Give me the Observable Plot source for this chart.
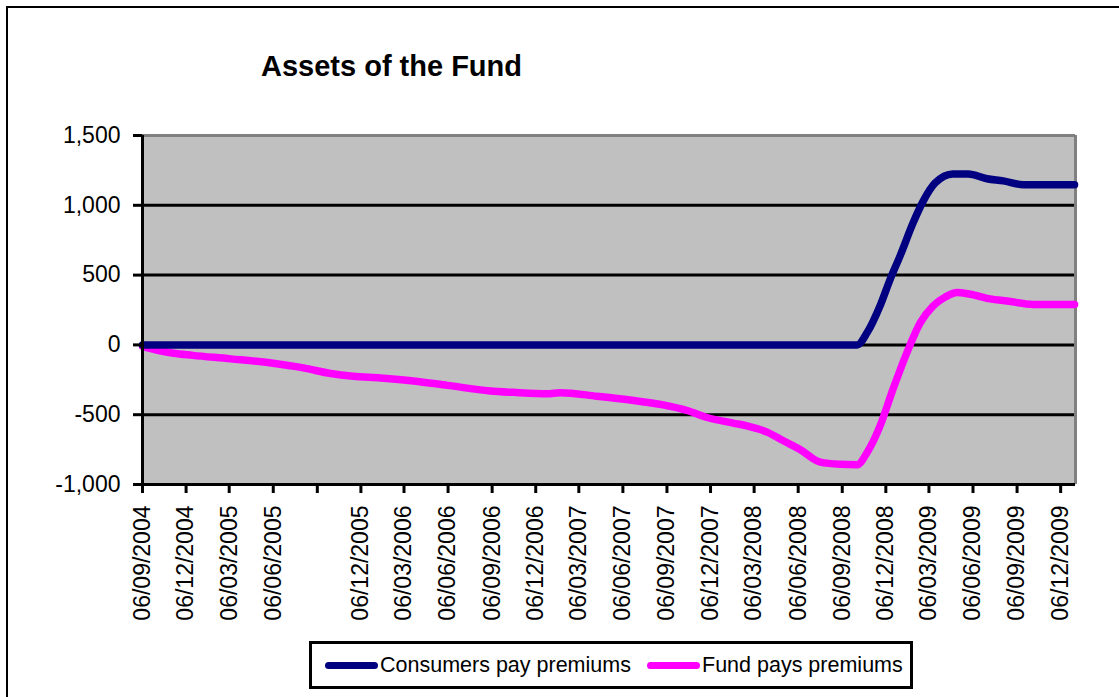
<!DOCTYPE html>
<html>
<head>
<meta charset="utf-8">
<script src="https://cdn.jsdelivr.net/npm/d3@7"></script>
<script src="https://cdn.jsdelivr.net/npm/@observablehq/plot@0.6"></script>
<style>
html, body { margin: 0; padding: 0; background: #fff; overflow: hidden; }
#wrap { position: relative; width: 1119px; height: 697px; font-family: "Liberation Sans", Arial, sans-serif; color: #000; }
#frame { position: absolute; left: 6px; top: 6px; width: 1200px; height: 800px; border: 2px solid #000; }
#title { position: absolute; left: 261px; top: 52px; font-size: 29px; font-weight: bold; line-height: 29px; white-space: nowrap; }
#chart { position: absolute; left: 0; top: 0; }
#legend { position: absolute; left: 309px; top: 641px; width: 598px; height: 42px; border: 3px solid #000; background: #fff; }
.item { position: absolute; top: 0; height: 42px; display: flex; align-items: center; font-size: 21.5px; white-space: nowrap; }
.sw { display: inline-block; width: 53px; height: 7px; border-radius: 4px; margin-right: 2px; }
</style>
</head>
<body>
<div id="wrap">
  <div id="frame"></div>
  <div id="chart"></div>
  <div id="title"></div>
  <div id="legend"></div>
</div>
<script>
// ---- Data ----
const chartTitle = "Assets of the Fund";
const seriesNames = ["Consumers pay premiums", "Fund pays premiums"];
const seriesColors = ["#000080", "#FF00FF"];

const xTickDates = ["2004-09-06","2004-12-06","2005-03-06","2005-06-06","2005-09-06","2005-12-06",
  "2006-03-06","2006-06-06","2006-09-06","2006-12-06","2007-03-06","2007-06-06","2007-09-06",
  "2007-12-06","2008-03-06","2008-06-06","2008-09-06","2008-12-06","2009-03-06","2009-06-06",
  "2009-09-06","2009-12-06"];
const xTickHidden = ["2005-09-06"];
const xDomain = ["2004-09-06", "2010-01-06"];
const yTicks = [-1000, -500, 0, 500, 1000, 1500];

const consumerDates = ["2004-09-06","2008-10-07","2008-10-28","2008-11-24","2008-12-15","2009-01-05",
  "2009-02-01","2009-02-22","2009-03-19","2009-04-25","2009-05-27","2009-07-05","2009-08-08",
  "2009-09-19","2010-01-04"];
const consumerValues = [0, 0, 88, 280, 470, 640, 875, 1030, 1160, 1225, 1225, 1190, 1175, 1148, 1148];

const fundDates = ["2004-09-06","2004-10-10","2004-11-10","2004-12-20","2005-03-09","2005-06-02",
  "2005-08-08","2005-10-04","2005-11-20","2006-01-16","2006-03-26","2006-06-05","2006-09-02",
  "2006-10-20","2006-12-30","2007-01-26","2007-04-13","2007-06-21","2007-08-29","2007-10-18",
  "2007-11-29","2008-01-22","2008-02-20","2008-04-02","2008-05-05","2008-06-10","2008-07-22",
  "2008-09-01","2008-10-07","2008-10-28","2008-11-24","2008-12-21","2009-01-19","2009-02-16",
  "2009-03-15","2009-04-10","2009-05-04","2009-05-31","2009-07-12","2009-08-16","2009-10-10",
  "2010-01-04"];
const fundValues = [-10, -40, -60, -75, -100, -130, -165, -205, -225, -237, -258, -290, -330,
  -340, -350, -342, -368, -395, -430, -470, -520, -560, -580, -625, -685, -750, -840,
  -855, -858, -770, -580, -317, -55, 160, 280, 345, 375, 363, 330, 315, 290, 290];

// ---- Build ----
const parse = s => new Date(s + "T00:00:00Z");
const consumerData = consumerDates.map((d, i) => ({date: parse(d), value: consumerValues[i]}));
const fundData = fundDates.map((d, i) => ({date: parse(d), value: fundValues[i]}));
const dom = xDomain.map(parse);
const fmtDate = d3.utcFormat("%d/%m/%Y");
const hidden = new Set(xTickHidden);
const fmtY = d => d.toLocaleString("en-US");

const plot = Plot.plot({
  width: 1119,
  height: 697,
  marginLeft: 142,
  marginRight: 44,
  marginTop: 135,
  marginBottom: 213,
  style: {fontFamily: '"Liberation Sans", Arial, sans-serif', fontSize: "23px", color: "#000", background: "transparent"},
  x: {type: "utc", domain: dom},
  y: {domain: [-1000, 1500]},
  marks: [
    Plot.frame({fill: "#C0C0C0", stroke: "none"}),
    Plot.ruleY(yTicks.filter(v => v > -1000 && v < 1500), {stroke: "#000", strokeWidth: 3}),
    Plot.ruleY([1500], {stroke: "#808080", strokeWidth: 3}),
    Plot.ruleX([dom[1]], {stroke: "#808080", strokeWidth: 3}),
    Plot.line(fundData, {x: "date", y: "value", stroke: seriesColors[1], strokeWidth: 7.5,
      strokeLinecap: "round", strokeLinejoin: "round", curve: "monotone-x"}),
    Plot.line(consumerData, {x: "date", y: "value", stroke: seriesColors[0], strokeWidth: 7.5,
      strokeLinecap: "round", strokeLinejoin: "round", curve: "monotone-x"}),
    Plot.ruleX([dom[0]], {stroke: "#000", strokeWidth: 3}),
    Plot.ruleY([-1000], {stroke: "#000", strokeWidth: 3}),
    Plot.axisY({ticks: yTicks, tickFormat: fmtY, tickSize: 9, tickPadding: 13, strokeWidth: 3, label: null}),
    Plot.axisX({ticks: xTickDates.map(parse), tickFormat: d => hidden.has(d.toISOString().slice(0, 10)) ? "" : fmtDate(d),
      tickRotate: -90, tickSize: 9, tickPadding: 12, strokeWidth: 3, label: null})
  ]
});
document.getElementById("chart").appendChild(plot);

document.getElementById("title").textContent = chartTitle;

const legend = document.getElementById("legend");
const lefts = [13, 335];
seriesNames.forEach((name, i) => {
  const item = document.createElement("div");
  item.className = "item";
  item.style.left = lefts[i] + "px";
  const sw = document.createElement("span");
  sw.className = "sw";
  sw.style.background = seriesColors[i];
  item.appendChild(sw);
  item.appendChild(document.createTextNode(name));
  legend.appendChild(item);
});
</script>
</body>
</html>
